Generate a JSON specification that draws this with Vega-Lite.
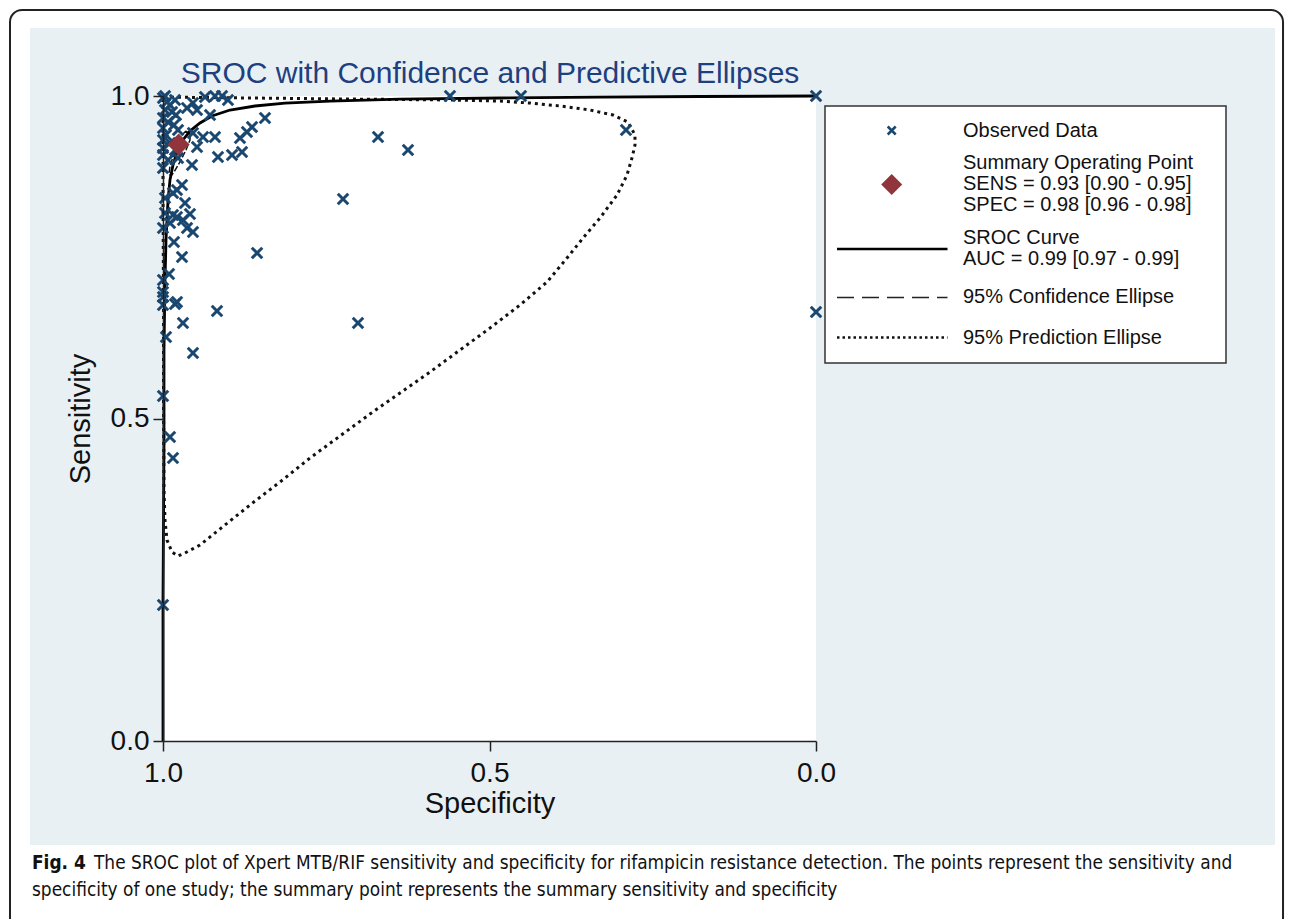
{
  "$schema": "https://vega.github.io/schema/vega-lite/v6.json",
  "width": 653,
  "height": 645,
  "autosize": {"type": "none"},
  "padding": {"left": 163, "top": 96, "right": 477, "bottom": 178},
  "background": "white",
  "view": {"stroke": null, "fill": null},
  "config": {
    "font": "Liberation Sans",
    "axis": {
      "grid": false,
      "domainColor": "#222",
      "tickColor": "#222",
      "domainWidth": 1.5,
      "tickWidth": 1.5,
      "labelColor": "#111",
      "titleColor": "#111",
      "titleFontWeight": "normal",
      "labelFont": "Liberation Sans",
      "titleFont": "Liberation Sans",
      "labelFontSize": 28,
      "titleFontSize": 29,
      "tickSize": 10,
      "labelFlush": false,
      "labelOverlap": false
    }
  },
  "datasets": {
    "obs": [
      {"spec": 0.5605, "sens": 1.0}, {"spec": 0.4518, "sens": 1.0}, {"spec": 0.0, "sens": 1.0},
      {"spec": 0.2910, "sens": 0.9473}, {"spec": 0.6707, "sens": 0.9364}, {"spec": 0.6248, "sens": 0.9163},
      {"spec": 0.7243, "sens": 0.8403}, {"spec": 0.0, "sens": 0.6651}, {"spec": 0.7014, "sens": 0.6481},
      {"spec": 0.8560, "sens": 0.7566}, {"spec": 0.9173, "sens": 0.6667}, {"spec": 0.9541, "sens": 0.6016},
      {"spec": 0.9694, "sens": 0.6481}, {"spec": 0.9954, "sens": 0.6264}, {"spec": 1.0, "sens": 0.5349},
      {"spec": 0.9893, "sens": 0.4713}, {"spec": 0.9847, "sens": 0.4388}, {"spec": 1.0, "sens": 0.2109},
      {"spec": 0.9663, "sens": 0.8341}, {"spec": 0.9969, "sens": 0.8186}, {"spec": 0.9847, "sens": 0.8155},
      {"spec": 0.9786, "sens": 0.8124}, {"spec": 0.9587, "sens": 0.8171}, {"spec": 0.9694, "sens": 0.8078},
      {"spec": 0.9893, "sens": 0.8031}, {"spec": 1.0, "sens": 0.7953}, {"spec": 0.9632, "sens": 0.7953},
      {"spec": 0.9541, "sens": 0.7891}, {"spec": 0.9832, "sens": 0.7736}, {"spec": 0.9709, "sens": 0.7504},
      {"spec": 0.9908, "sens": 0.7240}, {"spec": 1.0, "sens": 0.7147}, {"spec": 1.0, "sens": 0.6961},
      {"spec": 1.0, "sens": 0.6884}, {"spec": 0.9786, "sens": 0.6806}, {"spec": 0.9816, "sens": 0.6775},
      {"spec": 1.0, "sens": 0.6760},
      {"spec": 0.9969, "sens": 1.0}, {"spec": 0.9816, "sens": 0.9938}, {"spec": 0.9357, "sens": 0.9984},
      {"spec": 0.9204, "sens": 1.0}, {"spec": 0.9096, "sens": 1.0}, {"spec": 0.9005, "sens": 0.9938},
      {"spec": 0.9541, "sens": 0.9891}, {"spec": 0.9632, "sens": 0.9814}, {"spec": 0.9479, "sens": 0.9783},
      {"spec": 0.9280, "sens": 0.9705}, {"spec": 0.8438, "sens": 0.9659}, {"spec": 0.8637, "sens": 0.9519},
      {"spec": 0.8714, "sens": 0.9442}, {"spec": 0.8821, "sens": 0.9349}, {"spec": 0.9204, "sens": 0.9364},
      {"spec": 0.9387, "sens": 0.9364}, {"spec": 0.9541, "sens": 0.9426}, {"spec": 0.9479, "sens": 0.9209},
      {"spec": 0.9158, "sens": 0.9054}, {"spec": 0.8943, "sens": 0.9085}, {"spec": 0.8790, "sens": 0.9132},
      {"spec": 0.9556, "sens": 0.8930}, {"spec": 0.9770, "sens": 0.9039}, {"spec": 1.0, "sens": 0.8884},
      {"spec": 0.9709, "sens": 0.8620}, {"spec": 0.9786, "sens": 0.8543}, {"spec": 0.9847, "sens": 0.8496},
      {"spec": 0.9969, "sens": 0.8419},
      {"spec": 1.0, "sens": 0.9969}, {"spec": 0.9939, "sens": 0.9907}, {"spec": 0.9893, "sens": 0.9860},
      {"spec": 0.9969, "sens": 0.9783}, {"spec": 0.9862, "sens": 0.9752}, {"spec": 0.9801, "sens": 0.9705},
      {"spec": 1.0, "sens": 0.9659}, {"spec": 0.9923, "sens": 0.9597}, {"spec": 0.9832, "sens": 0.9550},
      {"spec": 1.0, "sens": 0.9504}, {"spec": 0.9770, "sens": 0.9473}, {"spec": 0.9954, "sens": 0.9395},
      {"spec": 1.0, "sens": 0.9318}, {"spec": 0.9893, "sens": 0.9271}, {"spec": 1.0, "sens": 0.9194},
      {"spec": 0.9816, "sens": 0.9163}, {"spec": 1.0, "sens": 0.9085}, {"spec": 0.9923, "sens": 0.9008}
    ],
    "summary": [{"spec": 0.976, "sens": 0.925}],
    "sroc": [
      {"i": 0, "spec": 1.0, "sens": 0.0}, {"i": 1, "spec": 1.0, "sens": 0.2186},
      {"i": 2, "spec": 0.9985, "sens": 0.4512}, {"i": 3, "spec": 0.9985, "sens": 0.6062},
      {"i": 4, "spec": 0.9969, "sens": 0.7147}, {"i": 5, "spec": 0.9954, "sens": 0.7767},
      {"i": 6, "spec": 0.9923, "sens": 0.8388}, {"i": 7, "spec": 0.9893, "sens": 0.8698},
      {"i": 8, "spec": 0.9847, "sens": 0.8930}, {"i": 9, "spec": 0.9786, "sens": 0.9132},
      {"i": 10, "spec": 0.9694, "sens": 0.9318}, {"i": 11, "spec": 0.9587, "sens": 0.9457},
      {"i": 12, "spec": 0.9433, "sens": 0.9581}, {"i": 13, "spec": 0.9250, "sens": 0.9690},
      {"i": 14, "spec": 0.8974, "sens": 0.9783}, {"i": 15, "spec": 0.8591, "sens": 0.9845},
      {"i": 16, "spec": 0.8132, "sens": 0.9891}, {"i": 17, "spec": 0.7443, "sens": 0.9922},
      {"i": 18, "spec": 0.6371, "sens": 0.9953}, {"i": 19, "spec": 0.4839, "sens": 0.9969},
      {"i": 20, "spec": 0.3308, "sens": 0.9984}, {"i": 21, "spec": 0.1776, "sens": 0.9992},
      {"i": 22, "spec": 0.0, "sens": 1.0}
    ],
    "pred": [
      {"i": 0, "spec": 0.9985, "sens": 0.9984}, {"i": 1, "spec": 0.9433, "sens": 0.9977},
      {"i": 2, "spec": 0.8668, "sens": 0.9969}, {"i": 3, "spec": 0.7136, "sens": 0.9953},
      {"i": 4, "spec": 0.5605, "sens": 0.9938}, {"i": 5, "spec": 0.4839, "sens": 0.9922},
      {"i": 6, "spec": 0.4380, "sens": 0.9891}, {"i": 7, "spec": 0.3920, "sens": 0.9845},
      {"i": 8, "spec": 0.3461, "sens": 0.9783}, {"i": 9, "spec": 0.3109, "sens": 0.9705},
      {"i": 10, "spec": 0.2879, "sens": 0.9597}, {"i": 11, "spec": 0.2772, "sens": 0.9395},
      {"i": 12, "spec": 0.2772, "sens": 0.9240}, {"i": 13, "spec": 0.2818, "sens": 0.9039},
      {"i": 14, "spec": 0.2894, "sens": 0.8775}, {"i": 15, "spec": 0.3047, "sens": 0.8465},
      {"i": 16, "spec": 0.3308, "sens": 0.8109}, {"i": 17, "spec": 0.3568, "sens": 0.7798},
      {"i": 18, "spec": 0.3813, "sens": 0.7488}, {"i": 19, "spec": 0.4119, "sens": 0.7116},
      {"i": 20, "spec": 0.4533, "sens": 0.6760}, {"i": 21, "spec": 0.4992, "sens": 0.6403},
      {"i": 22, "spec": 0.5452, "sens": 0.6062}, {"i": 23, "spec": 0.5911, "sens": 0.5721},
      {"i": 24, "spec": 0.6371, "sens": 0.5395}, {"i": 25, "spec": 0.6830, "sens": 0.5070},
      {"i": 26, "spec": 0.7289, "sens": 0.4729}, {"i": 27, "spec": 0.7749, "sens": 0.4388},
      {"i": 28, "spec": 0.8208, "sens": 0.4016}, {"i": 29, "spec": 0.8668, "sens": 0.3659},
      {"i": 30, "spec": 0.9051, "sens": 0.3349}, {"i": 31, "spec": 0.9433, "sens": 0.3039},
      {"i": 32, "spec": 0.9663, "sens": 0.2915}, {"i": 33, "spec": 0.9770, "sens": 0.2868},
      {"i": 34, "spec": 0.9862, "sens": 0.2930}, {"i": 35, "spec": 0.9939, "sens": 0.3116},
      {"i": 36, "spec": 0.9969, "sens": 0.3426}, {"i": 37, "spec": 0.9985, "sens": 0.3891},
      {"i": 38, "spec": 0.9992, "sens": 0.5287}, {"i": 39, "spec": 0.9992, "sens": 0.6837},
      {"i": 40, "spec": 1.0, "sens": 0.8388}, {"i": 41, "spec": 1.0, "sens": 0.9473},
      {"i": 42, "spec": 1.0, "sens": 0.9938}, {"i": 43, "spec": 0.9985, "sens": 0.9984}
    ],
    "conf": [
      {"i": 0, "spec": 0.9648, "sens": 0.9457}, {"i": 1, "spec": 0.9587, "sens": 0.9411},
      {"i": 2, "spec": 0.9587, "sens": 0.9318}, {"i": 3, "spec": 0.9648, "sens": 0.9163},
      {"i": 4, "spec": 0.9740, "sens": 0.8977}, {"i": 5, "spec": 0.9832, "sens": 0.8822},
      {"i": 6, "spec": 0.9877, "sens": 0.8760}, {"i": 7, "spec": 0.9908, "sens": 0.8791},
      {"i": 8, "spec": 0.9893, "sens": 0.8915}, {"i": 9, "spec": 0.9832, "sens": 0.9101},
      {"i": 10, "spec": 0.9755, "sens": 0.9287}, {"i": 11, "spec": 0.9694, "sens": 0.9411},
      {"i": 12, "spec": 0.9648, "sens": 0.9457}
    ]
  },
  "layer": [
    {
      "data": {"values": [{}]},
      "mark": {"type": "rect", "fill": "#e9f0f3"},
      "encoding": {
        "x": {"datum": 1.2037, "type": "quantitative",
              "scale": {"domain": [0, 1], "reverse": true, "nice": false, "zero": false},
              "axis": {"title": "Specificity", "values": [1, 0.5, 0], "format": ".1f", "labelPadding": 8, "titlePadding": 2, "zindex": 1}},
        "x2": {"datum": -0.7029},
        "y": {"datum": 1.1054, "type": "quantitative",
              "scale": {"domain": [0, 1], "nice": false, "zero": false},
              "axis": {"title": "Sensitivity", "values": [0, 0.5, 1], "format": ".1f", "labelPadding": 4, "titlePadding": 15, "zindex": 1}},
        "y2": {"datum": -0.1612}
      }
    },
    {
      "data": {"values": [{}]},
      "mark": {"type": "rect", "fill": "white"},
      "encoding": {
        "x": {"datum": 1, "type": "quantitative"}, "x2": {"datum": 0},
        "y": {"datum": 1, "type": "quantitative"}, "y2": {"datum": 0}
      }
    },
    {
      "data": {"values": [{}]},
      "mark": {"type": "rect", "filled": false, "stroke": "#222", "strokeWidth": 2, "cornerRadius": 12},
      "encoding": {
        "x": {"datum": 1.2343, "type": "quantitative"}, "x2": {"datum": -0.7152},
        "y": {"datum": 1.1333, "type": "quantitative"}, "y2": {"datum": -0.2930}
      }
    },
    {
      "data": {"name": "pred"},
      "mark": {"type": "line", "color": "#111", "strokeWidth": 3, "strokeDash": [3, 4]},
      "encoding": {
        "x": {"field": "spec", "type": "quantitative"},
        "y": {"field": "sens", "type": "quantitative"},
        "order": {"field": "i", "type": "quantitative"}
      }
    },
    {
      "data": {"name": "conf"},
      "mark": {"type": "line", "color": "#111", "strokeWidth": 1.5, "strokeDash": [6, 2]},
      "encoding": {
        "x": {"field": "spec", "type": "quantitative"},
        "y": {"field": "sens", "type": "quantitative"},
        "order": {"field": "i", "type": "quantitative"}
      }
    },
    {
      "data": {"name": "sroc"},
      "mark": {"type": "line", "color": "#000", "strokeWidth": 2.8},
      "encoding": {
        "x": {"field": "spec", "type": "quantitative"},
        "y": {"field": "sens", "type": "quantitative"},
        "order": {"field": "i", "type": "quantitative"}
      }
    },
    {
      "data": {"name": "obs"},
      "mark": {"type": "point", "shape": "M-1,-1L1,1M-1,1L1,-1", "filled": false, "stroke": "#1a476f", "strokeWidth": 3, "size": 110, "opacity": 1},
      "encoding": {
        "x": {"field": "spec", "type": "quantitative"},
        "y": {"field": "sens", "type": "quantitative"}
      }
    },
    {
      "data": {"name": "summary"},
      "mark": {"type": "point", "shape": "diamond", "filled": true, "color": "#90353b", "size": 480, "opacity": 1},
      "encoding": {
        "x": {"field": "spec", "type": "quantitative"},
        "y": {"field": "sens", "type": "quantitative"}
      }
    },
    {
      "data": {"values": [{}]},
      "mark": {"type": "rect", "fill": "white", "stroke": "#333", "strokeWidth": 1.5},
      "encoding": {
        "x": {"datum": -0.01378, "type": "quantitative"}, "x2": {"datum": -0.62787},
        "y": {"datum": 0.98450, "type": "quantitative"}, "y2": {"datum": 0.58605}
      }
    },
    {
      "data": {"values": [{}]},
      "mark": {"type": "point", "shape": "M-1,-1L1,1M-1,1L1,-1", "filled": false, "stroke": "#1a476f", "strokeWidth": 2.5, "size": 64, "opacity": 1},
      "encoding": {
        "x": {"datum": -0.11593, "type": "quantitative"},
        "y": {"datum": 0.94651, "type": "quantitative"}
      }
    },
    {
      "data": {"values": [{}]},
      "mark": {"type": "point", "shape": "diamond", "filled": true, "color": "#90353b", "size": 440, "opacity": 1},
      "encoding": {
        "x": {"datum": -0.11593, "type": "quantitative"},
        "y": {"datum": 0.86279, "type": "quantitative"}
      }
    },
    {
      "data": {"values": [{}]},
      "mark": {"type": "rule", "color": "#000", "strokeWidth": 2.5},
      "encoding": {
        "x": {"datum": -0.03216, "type": "quantitative"}, "x2": {"datum": -0.20138},
        "y": {"datum": 0.76279, "type": "quantitative"}
      }
    },
    {
      "data": {"values": [{}]},
      "mark": {"type": "rule", "color": "#222", "strokeWidth": 1.3, "strokeDash": [17, 8]},
      "encoding": {
        "x": {"datum": -0.03216, "type": "quantitative"}, "x2": {"datum": -0.20138},
        "y": {"datum": 0.68760, "type": "quantitative"}
      }
    },
    {
      "data": {"values": [{}]},
      "mark": {"type": "rule", "color": "#111", "strokeWidth": 2.5, "strokeDash": [2.5, 3]},
      "encoding": {
        "x": {"datum": -0.03216, "type": "quantitative"}, "x2": {"datum": -0.20138},
        "y": {"datum": 0.62558, "type": "quantitative"}
      }
    },
    {
      "data": {"values": [{}]},
      "mark": {"type": "text", "text": "Observed Data", "font": "Liberation Sans", "fontSize": 20, "color": "#111", "align": "left", "baseline": "middle"},
      "encoding": {
        "x": {"datum": -0.22511, "type": "quantitative"},
        "y": {"datum": 0.94651, "type": "quantitative"}
      }
    },
    {
      "data": {"values": [{}]},
      "mark": {"type": "text", "text": ["Summary Operating Point", "SENS = 0.93 [0.90 - 0.95]", "SPEC = 0.98 [0.96 - 0.98]"], "lineHeight": 21, "font": "Liberation Sans", "fontSize": 20, "color": "#111", "align": "left", "baseline": "middle"},
      "encoding": {
        "x": {"datum": -0.22511, "type": "quantitative"},
        "y": {"datum": 0.89535, "type": "quantitative"}
      }
    },
    {
      "data": {"values": [{}]},
      "mark": {"type": "text", "text": ["SROC Curve", "AUC = 0.99 [0.97 - 0.99]"], "lineHeight": 21, "font": "Liberation Sans", "fontSize": 20, "color": "#111", "align": "left", "baseline": "middle"},
      "encoding": {
        "x": {"datum": -0.22511, "type": "quantitative"},
        "y": {"datum": 0.77907, "type": "quantitative"}
      }
    },
    {
      "data": {"values": [{}]},
      "mark": {"type": "text", "text": "95% Confidence Ellipse", "font": "Liberation Sans", "fontSize": 20, "color": "#111", "align": "left", "baseline": "middle"},
      "encoding": {
        "x": {"datum": -0.22511, "type": "quantitative"},
        "y": {"datum": 0.68760, "type": "quantitative"}
      }
    },
    {
      "data": {"values": [{}]},
      "mark": {"type": "text", "text": "95% Prediction Ellipse", "font": "Liberation Sans", "fontSize": 20, "color": "#111", "align": "left", "baseline": "middle"},
      "encoding": {
        "x": {"datum": -0.22511, "type": "quantitative"},
        "y": {"datum": 0.62558, "type": "quantitative"}
      }
    },
    {
      "data": {"values": [{}]},
      "mark": {"type": "text", "text": "SROC with Confidence and Predictive Ellipses", "font": "Liberation Sans", "fontSize": 30, "color": "#1e3f80", "align": "center", "baseline": "middle"},
      "encoding": {
        "x": {"datum": 0.4992, "type": "quantitative"},
        "y": {"datum": 1.0341, "type": "quantitative"}
      }
    },
    {
      "data": {"values": [{}]},
      "mark": {"type": "text", "text": "Fig. 4", "font": "DejaVu Sans Condensed", "fontWeight": "bold", "fontSize": 18.9, "color": "#111", "align": "left", "baseline": "middle"},
      "encoding": {
        "x": {"datum": 1.20061, "type": "quantitative"},
        "y": {"datum": -0.18915, "type": "quantitative"}
      }
    },
    {
      "data": {"values": [{}]},
      "mark": {"type": "text", "text": "The SROC plot of Xpert MTB/RIF sensitivity and specificity for rifampicin resistance detection. The points represent the sensitivity and", "font": "DejaVu Sans Condensed", "fontSize": 18.9, "color": "#111", "align": "left", "baseline": "middle"},
      "encoding": {
        "x": {"datum": 1.10567, "type": "quantitative"},
        "y": {"datum": -0.18915, "type": "quantitative"}
      }
    },
    {
      "data": {"values": [{}]},
      "mark": {"type": "text", "text": "specificity of one study; the summary point represents the summary sensitivity and specificity", "font": "DejaVu Sans Condensed", "fontSize": 18.9, "color": "#111", "align": "left", "baseline": "middle"},
      "encoding": {
        "x": {"datum": 1.20061, "type": "quantitative"},
        "y": {"datum": -0.23101, "type": "quantitative"}
      }
    }
  ]
}
